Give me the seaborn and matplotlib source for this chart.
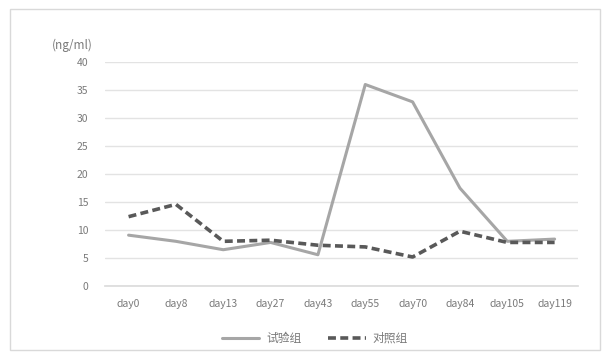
import matplotlib
matplotlib.use("Agg")
import matplotlib.pyplot as plt
import seaborn as sns
import pandas as pd
from matplotlib.patches import Rectangle
from matplotlib.lines import Line2D

days = ["day0", "day8", "day13", "day27", "day43", "day55", "day70", "day84", "day105", "day119"]
test_group = [9.1, 8.0, 6.5, 7.8, 5.6, 36.0, 32.9, 17.5, 8.0, 8.4]
control_group = [12.4, 14.6, 8.0, 8.2, 7.3, 7.0, 5.2, 9.8, 7.8, 7.8]
test_name = "试验组"
control_name = "对照组"
y_ticks = [0, 5, 10, 15, 20, 25, 30, 35, 40]

sns.set_theme(style="white")
plt.rcParams['font.family'] = ['Noto Sans CJK SC', 'DejaVu Sans']

df = pd.DataFrame({
    "day": days * 2,
    "value": test_group + control_group,
    "group": [test_name] * len(days) + [control_name] * len(days),
})

fig = plt.figure(figsize=(6.1, 3.59), dpi=100)
ax = fig.add_axes([0.172, 0.203, 0.776, 0.624])

sns.lineplot(data=df, x="day", y="value", hue="group", style="group",
             palette={test_name: "#a6a6a6", control_name: "#595959"},
             dashes={test_name: "", control_name: (2.2, 1.2)},
             sort=False, ax=ax, legend=False)
for line in ax.lines:
    line.set_linewidth(2.2)
ax.lines[1].set_linewidth(2.6)

ax.set_ylim(0, 40)
ax.set_xlim(-0.5, len(days) - 0.5)
ax.set_yticks(y_ticks)
ax.yaxis.grid(True, color="#e3e3e3", linewidth=1)
ax.xaxis.grid(False)
for s in ["top", "right", "left"]:
    ax.spines[s].set_visible(False)
ax.spines["bottom"].set_color("#dcdcdc")
ax.tick_params(axis="both", length=0, labelsize=7.5, labelcolor="#7a7a7a")
ax.tick_params(axis="y", pad=12)
ax.tick_params(axis="x", pad=9)
ax.set_xlabel("")
ax.set_ylabel("")
ax.text(-0.112, 1.045, "(ng/ml)", transform=ax.transAxes, fontsize=8.5, color="#7a7a7a",
        ha="left", va="bottom")

handles = [Line2D([], [], color="#a6a6a6", lw=2.2),
           Line2D([], [], color="#595959", lw=2.6, dashes=(2.2, 1.2))]
fig.legend(handles, [test_name, control_name], loc="center", bbox_to_anchor=(0.516, 0.058),
           ncol=2, frameon=False, fontsize=8.5, labelcolor="#7a7a7a",
           handlelength=3.2, handletextpad=0.6, columnspacing=2.2)

fig.patches.append(Rectangle((0.016, 0.025), 0.968, 0.95, transform=fig.transFigure,
                             fill=False, edgecolor="#d9d9d9", linewidth=1))

fig.savefig("out.png", dpi=100)
